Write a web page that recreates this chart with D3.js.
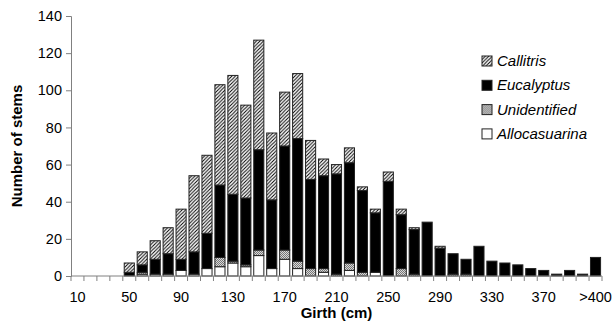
<!DOCTYPE html>
<html>
<head>
<meta charset="utf-8">
<script src="https://cdn.jsdelivr.net/npm/d3@7"></script>
<style>
  body { margin: 0; background: #fff; }
  svg { display: block; font-family: "Liberation Sans", Arial, sans-serif; }
</style>
</head>
<body>
<div id="chart"></div>
<script>
// Girth classes (cm)
const categories = ['10','20','30','40','50','60','70','80','90','100','110','120','130','140','150',
  '160','170','180','190','200','210','220','230','240','250','260','270','280','290','300','310',
  '320','330','340','350','360','370','380','390','400','>400'];

// Stem counts per girth class
const allocasuarina = [0,0,0,0, 0,1,1,1,3,1,4,5,7,5,11,4,9,4,0,2,0,3,0,2,0,0,0,0,0,0,0,0,0,0,0,0,0,0,0,0,0];
const unidentified  = [0,0,0,0, 0,1,0,0,0,0,0,5,1,1,3,0,5,4,4,2,1,4,2,0,0,4,1,0,0,1,1,0,0,0,0,0,0,0,0,0,0];
const eucalyptus    = [0,0,0,0, 2,4,8,11,6,12,19,39,36,36,54,37,56,66,48,50,54,54,44,32,51,29,24,29,15,11,8,16,8,7,6,4,3,1,3,1,10];
const callitris     = [0,0,0,0, 5,7,10,14,27,41,42,54,64,50,59,36,29,35,21,9,5,8,2,2,5,3,1,0,1,0,0,0,0,0,0,0,0,0,0,0,0];

const species = ['Allocasuarina', 'Unidentified', 'Eucalyptus', 'Callitris'];
const legendOrder = ['Callitris', 'Eucalyptus', 'Unidentified', 'Allocasuarina'];
const yTicks = [0, 20, 40, 60, 80, 100, 120, 140];
const xTickLabels = ['10','50','90','130','170','210','250','290','330','370','>400'];

const W = 615, H = 331;
const margin = { left: 71, right: 13, top: 16, bottom: 55 };

const svg = d3.select('#chart').append('svg')
  .attr('width', W)
  .attr('height', H);

// fill patterns
const defs = svg.append('defs');
const hatch = defs.append('pattern')
  .attr('id', 'hatch')
  .attr('patternUnits', 'userSpaceOnUse')
  .attr('width', 3.5).attr('height', 3.5);
hatch.append('rect').attr('width', 3.5).attr('height', 3.5).attr('fill', '#fff');
hatch.append('path')
  .attr('d', 'M-1,1 L1,-1 M0,3.5 L3.5,0 M2.5,4.5 L4.5,2.5')
  .attr('stroke', '#000').attr('stroke-width', 1);

const dots = defs.append('pattern')
  .attr('id', 'dots')
  .attr('patternUnits', 'userSpaceOnUse')
  .attr('width', 2).attr('height', 2);
dots.append('rect').attr('width', 2).attr('height', 2).attr('fill', '#d8d8d8');
dots.append('rect').attr('width', 1).attr('height', 1).attr('fill', '#777');
dots.append('rect').attr('x', 1).attr('y', 1).attr('width', 1).attr('height', 1).attr('fill', '#777');

const fills = {
  Callitris: 'url(#hatch)',
  Eucalyptus: '#000',
  Unidentified: 'url(#dots)',
  Allocasuarina: '#fff'
};

// scales
const x = d3.scaleBand()
  .domain(categories)
  .range([margin.left, W - margin.right])
  .paddingInner(0.22)
  .paddingOuter(0.11);

const y = d3.scaleLinear()
  .domain([0, 140])
  .range([H - margin.bottom, margin.top]);

// stacked data
const table = categories.map((c, i) => ({
  cat: c,
  Allocasuarina: allocasuarina[i],
  Unidentified: unidentified[i],
  Eucalyptus: eucalyptus[i],
  Callitris: callitris[i]
}));
const stacked = d3.stack().keys(species)(table);

svg.append('g')
  .selectAll('g')
  .data(stacked)
  .join('g')
  .attr('fill', d => fills[d.key])
  .selectAll('rect')
  .data(d => d.filter(s => s[1] > s[0]))
  .join('rect')
  .attr('x', d => x(d.data.cat))
  .attr('width', x.bandwidth())
  .attr('y', d => y(d[1]))
  .attr('height', d => y(d[0]) - y(d[1]))
  .attr('stroke', '#222')
  .attr('stroke-width', 1);

// y axis
const yAxis = svg.append('g')
  .attr('transform', `translate(${margin.left},0)`)
  .call(d3.axisLeft(y).tickValues(yTicks).tickSize(5).tickPadding(4));
yAxis.select('.domain').attr('stroke', '#808080');
yAxis.selectAll('.tick line').attr('stroke', '#808080');
yAxis.selectAll('.tick text').attr('font-size', 14.5).attr('fill', '#000')
  .attr('font-family', '"Liberation Sans", Arial, sans-serif');

// x axis: ticks between categories, labels every 4th class
const base = y(0);
const step = x.step();
const gap = step - x.bandwidth();
const xAxis = svg.append('g');
xAxis.append('line')
  .attr('x1', margin.left).attr('x2', W - margin.right)
  .attr('y1', base).attr('y2', base)
  .attr('stroke', '#808080');
const boundaries = categories.map(c => x(c) - gap / 2).concat([x(categories[categories.length - 1]) + x.bandwidth() + gap / 2]);
xAxis.selectAll('line.tk')
  .data(boundaries)
  .join('line')
  .attr('class', 'tk')
  .attr('x1', d => d).attr('x2', d => d)
  .attr('y1', base).attr('y2', base + 5)
  .attr('stroke', '#808080');
xAxis.selectAll('text')
  .data(xTickLabels)
  .join('text')
  .attr('x', d => x(d) + x.bandwidth() / 2)
  .attr('y', base + 26)
  .attr('text-anchor', 'middle')
  .attr('font-size', 14.5)
  .text(d => d);

// axis titles
svg.append('text')
  .attr('x', (margin.left + W - margin.right) / 2)
  .attr('y', 318)
  .attr('text-anchor', 'middle')
  .attr('font-size', 15)
  .attr('font-weight', 'bold')
  .text('Girth (cm)');

svg.append('text')
  .attr('transform', `translate(22,${(margin.top + base) / 2}) rotate(-90)`)
  .attr('text-anchor', 'middle')
  .attr('font-size', 15)
  .attr('font-weight', 'bold')
  .text('Number of stems');

// legend
const legend = svg.append('g').attr('transform', 'translate(482,56)');
const rows = legend.selectAll('g')
  .data(legendOrder)
  .join('g')
  .attr('transform', (d, i) => `translate(0,${i * 24.3})`);
rows.append('rect')
  .attr('width', 10).attr('height', 10)
  .attr('fill', d => fills[d])
  .attr('stroke', '#222');
rows.append('text')
  .attr('x', 15).attr('y', 10)
  .attr('font-size', 15)
  .attr('font-style', 'italic')
  .text(d => d);
</script>
</body>
</html>
